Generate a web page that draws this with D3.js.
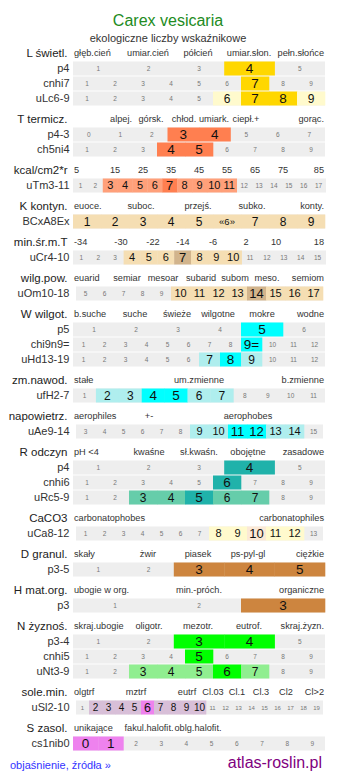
<!DOCTYPE html>
<html>
<head>
<meta charset="utf-8">
<script src="https://cdn.jsdelivr.net/npm/d3@7"></script>
<style>
  body { margin: 0; background: #fff; }
  svg { display: block; font-family: "Liberation Sans", Arial, sans-serif; }
</style>
</head>
<body>
<div id="chart"></div>
<script>
// ---- data ----
const title = "Carex vesicaria";
const subtitle = "ekologiczne liczby wskaźnikowe";

const groupNames = ["L świetl.", "T termicz.", "kcal/cm2*r", "K kontyn.", "min.śr.m.T", "wilg.pow.",
  "W wilgot.", "zm.nawod.", "napowietrz.", "R odczyn", "CaCO3", "D granul.", "H mat.org.",
  "N żyznoś.", "sole.min.", "S zasol."];

const headerLabels = [
  ["głęb.cień", "umiar.cień", "półcień", "umiar.słon.", "pełn.słońce"],
  ["alpej.", "górsk.", "chłod.", "umiark.", "ciepł.+", "gorąc."],
  ["5", "15", "25", "35", "45", "55", "65", "75", "85"],
  ["euoce.", "suboc.", "przejś.", "subko.", "konty."],
  ["-34", "-30", "-22", "-14", "-6", "2", "10", "18"],
  ["euarid", "semiar", "mesoar", "subarid", "subom", "meso.", "semiom"],
  ["b.suche", "suche", "świeże", "wilgotne", "mokre", "wodne"],
  ["stałe", "um.zmienne", "b.zmienne"],
  ["aerophiles", "+-", "aerophobes"],
  ["pH <4", "kwaśne", "sł.kwaśn.", "obojętne", "zasadowe"],
  ["carbonatophobes", "carbonatophiles"],
  ["skały", "żwir", "piasek", "ps-pyl-gl", "ciężkie"],
  ["ubogie w org.", "min.-próch.", "organiczne"],
  ["skraj.ubogie", "oligotr.", "mezotr.", "eutrof.", "skraj.żyzn."],
  ["olgtrf", "mztrf", "eutrf", "Cl.03", "Cl.1", "Cl.3", "Cl2", "Cl>2"],
  ["unikające", "fakul.halofit.", "oblg.halofit."]
];

const rowLabels = ["p4", "cnhi7", "uLc6-9", "p4-3", "ch5ni4", "uTm3-11", "BCxA8Ex", "uCr4-10",
  "uOm10-18", "p5", "chi9n9=", "uHd13-19", "ufH2-7", "uAe9-14", "p4", "cnhi6", "uRc5-9",
  "uCa8-12", "p3-5", "p3", "p3-4", "cnhi5", "uNt3-9", "uSl2-10", "cs1nib0"];
const rowGroup = [0, 0, 0, 1, 1, 2, 3, 4, 5, 6, 6, 6, 7, 8, 9, 9, 9, 10, 11, 12, 13, 13, 13, 14, 15];
const rowFirst = [1, 1, 1, 0, 1, 1, 1, 1, 5, 1, 1, 1, 1, 3, 1, 1, 1, 1, 1, 1, 1, 1, 1, 1, 0];
const rowLast  = [5, 9, 9, 7, 9, 17, 9, 15, 17, 6, 12, 12, 11, 15, 5, 9, 9, 13, 5, 3, 5, 9, 9, 19, 9];
const rowLight = [[], [], [6, 9], [], [], [3, 4, 5, 6, 8, 9, 10, 11], [1, 2, 3, 4, 5, 6, 7, 8, 9],
  [4, 5, 6, 8, 9, 10], [10, 11, 12, 13, 15, 16, 17], [], [], [7, 9], [2, 3, 6, 7], [9, 10, 13, 14],
  [], [], [3, 4, 6, 7], [8, 9, 11, 12], [], [], [], [], [3, 4, 5, 7], [2, 3, 4, 5, 7, 8, 9, 10], []];
const rowStrong = [[4], [7], [7, 8], [3, 4], [4, 5], [7], [], [7], [14], [5], [9], [8], [4, 5],
  [11, 12], [4], [6], [5], [10], [3, 4, 5], [3], [3, 4], [5], [6], [6], [0, 1]];
// cells shown with a special text
const specialRow = [6, 10];
const specialVal = [6, 9];
const specialText = ["«6»", "9="];

// ---- styling / layout ----
const lightColor = ["#fffacd", null, "#ffa07a", "#f5deb3", "#f5deb3", "#f5deb3", "#afeeee", "#afeeee",
  "#afeeee", "#66cdaa", "#fffacd", null, null, "#90ee90", "#d8bfd8", null];
const strongColor = ["#ffd700", "#ff7f50", "#ff7f50", "#d2b48c", "#d2b48c", "#d2b48c", "#00ffff",
  "#00ffff", "#00ffff", "#20b2aa", "#fbe9d6", "#cd853f", "#cd853f", "#00ff00", "#ee82ee", "#ee82ee"];
// header label x (s = left edge, e = right edge)
const headerX = [
  ["s", 148, 198, 249, "e"],
  [121, 151, 184, 214, 246, "e"],
  ["s", 115, 143, 171, 199, 227, 255, 283, "e"],
  ["s", 141, 198, 252, "e"],
  ["s", 121, 153, 183, 213, 246, 276, "e"],
  ["s", 127, 163, 201, 235, 267, "e"],
  ["s", 135, 177, 218, 262, "e"],
  ["s", 199, "e"],
  ["s", 149, 248],
  ["s", 149, 199, 248, "e"],
  ["s", "e"],
  ["s", 148, 198, 248, "e"],
  ["s", 199, "e"],
  ["s", 149, 198, 249, "e"],
  ["s", 136, 187, 213, 237, 261, 286, "e"],
  ["s", 149, 198]
];

const W = 337, H = 781;
const labelRight = 69.5, groupRight = 67.5;
const cellH = 14;

function extent(n) {
  if (n === 13 || n === 19) return [76, 323];
  if (n === 15 || n === 17) return [73, 326];
  return [73, 325];
}

// vertical positions
const headerY = [], rowY = [];
let y = 53;
groupNames.forEach((g, gi) => {
  if (gi > 0) y += 20.5;
  headerY[gi] = y;
  let k = 0;
  rowLabels.forEach((l, ri) => {
    if (rowGroup[ri] !== gi) return;
    y += k === 0 ? 15.5 : 15;
    rowY[ri] = y;
    k++;
  });
});

const svg = d3.select("#chart").append("svg")
  .attr("width", W)
  .attr("height", H);

svg.append("text")
  .attr("x", 168).attr("y", 26)
  .attr("text-anchor", "middle")
  .style("font-size", "16px")
  .style("fill", "#228b22")
  .text(title);

svg.append("text")
  .attr("x", 168).attr("y", 42)
  .attr("text-anchor", "middle")
  .style("font-size", "11px")
  .style("fill", "#333")
  .text(subtitle);

// group headers
groupNames.forEach((g, gi) => {
  const hy = headerY[gi];
  svg.append("text")
    .attr("x", groupRight).attr("y", hy)
    .attr("dy", "0.35em")
    .attr("text-anchor", "end")
    .style("font-size", "11.5px")
    .style("fill", "#222")
    .text(g);

  headerLabels[gi].forEach((t, j) => {
    const p = headerX[gi][j];
    svg.append("text")
      .attr("x", p === "s" ? 74 : p === "e" ? 324 : p)
      .attr("y", hy)
      .attr("dy", "0.35em")
      .attr("text-anchor", p === "s" ? "start" : p === "e" ? "end" : "middle")
      .style("font-size", "9.2px")
      .style("fill", "#333")
      .text(t);
  });
});

// rows
rowLabels.forEach((lab, ri) => {
  const gi = rowGroup[ri];
  const ry = rowY[ri];
  const vals = d3.range(rowFirst[ri], rowLast[ri] + 1);
  const x = d3.scaleBand().domain(vals).range(extent(vals.length));
  const bw = x.bandwidth();
  const g = svg.append("g");

  g.append("text")
    .attr("x", labelRight).attr("y", ry)
    .attr("dy", "0.35em")
    .attr("text-anchor", "end")
    .style("font-size", "11px")
    .style("fill", "#333")
    .text(lab);

  g.append("rect")
    .attr("x", x.range()[0]).attr("y", ry - cellH / 2)
    .attr("width", x.range()[1] - x.range()[0]).attr("height", cellH)
    .style("fill", "#eeeeee");

  const level = v => rowStrong[ri].includes(v) ? 2 : rowLight[ri].includes(v) ? 1 : 0;

  g.selectAll("rect.cell")
    .data(vals.filter(v => level(v) > 0))
    .enter().append("rect")
    .attr("class", "cell")
    .attr("x", d => x(d))
    .attr("y", ry - cellH / 2)
    .attr("width", bw + 0.3)
    .attr("height", cellH)
    .style("fill", d => level(d) === 2 ? strongColor[gi] : lightColor[gi]);

  g.selectAll("text.num")
    .data(vals)
    .enter().append("text")
    .attr("class", "num")
    .attr("x", d => x(d) + bw / 2)
    .attr("y", ry)
    .attr("dy", "0.36em")
    .attr("text-anchor", "middle")
    .style("font-size", d => {
      if (ri === 6 && d === 6) return "9.5px";
      const l = level(d);
      if (l === 0) return bw < 14 ? "6px" : "6.5px";
      if (bw < 14) return l === 2 ? "12.5px" : "10px";
      if (bw < 20) return l === 2 ? "13px" : "11px";
      return l === 2 ? "13.5px" : "12px";
    })
    .style("fill", d => level(d) > 0 ? "#111" : "#777")
    .text(d => {
      for (let s = 0; s < specialRow.length; s++) {
        if (specialRow[s] === ri && specialVal[s] === d) return specialText[s];
      }
      return d;
    });
});

// footer
svg.append("text")
  .attr("x", 10).attr("y", 769)
  .style("font-size", "11px")
  .style("fill", "#3333ff")
  .text("objaśnienie, źródła »");

svg.append("text")
  .attr("x", 322).attr("y", 768)
  .attr("text-anchor", "end")
  .style("font-size", "16px")
  .style("fill", "#800080")
  .text("atlas-roslin.pl");
</script>
</body>
</html>
